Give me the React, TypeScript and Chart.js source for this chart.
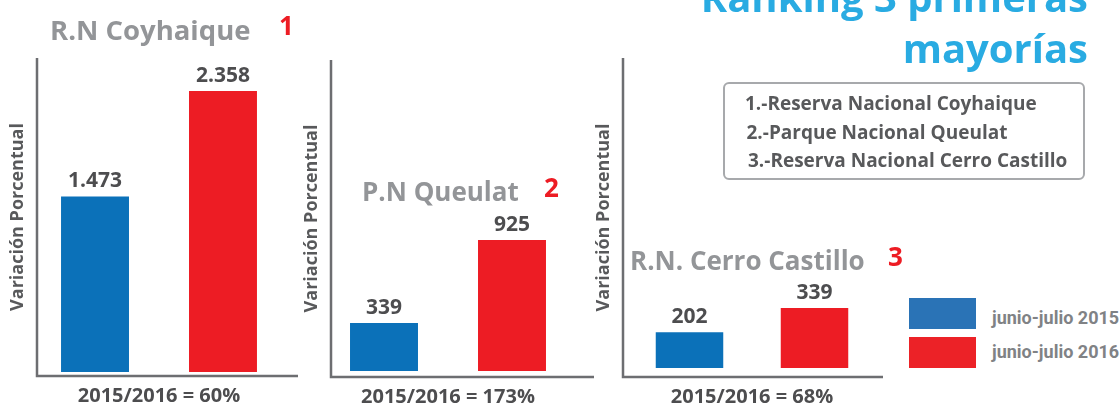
import React, { useEffect, useRef } from 'react';
import { Chart, registerables } from 'chart.js';

Chart.register(...registerables);

// ---- data ----
const parks = ['R.N Coyhaique', 'P.N Queulat', 'R.N. Cerro Castillo'];
const ranks = ['1', '2', '3'];
const seriesNames = ['junio-julio 2015', 'junio-julio 2016'];
const visitors2015 = [1473, 339, 202];
const visitors2016 = [2358, 925, 339];
const variationLabels = ['2015/2016 = 60%', '2015/2016 = 173%', '2015/2016 = 68%'];
const yAxisTitle = 'Variación Porcentual';
const axisMin = [-34, -42, -51];
const axisMax = [2635, 2196, 1751];
const rankingTitle = ['Ranking 3 primeras', 'mayorías'];
const rankingList = [
  '1.-Reserva Nacional Coyhaique',
  '2.-Parque Nacional Queulat',
  '3.-Reserva Nacional Cerro Castillo',
];

// ---- styles ----
const FONT = "'Open Sans', 'DejaVu Sans', sans-serif";
const BAR_COLORS = ['#0b71b9', '#ed1c24'];
const LEGEND_COLORS = ['#2a73b6', '#ec2227'];

const chartLayouts = [
  { left: 0, top: 40, w: 310, h: 368, pad: { left: 4.4, top: 18, right: 29, bottom: 0 }, ext: 17, cat: 1.049, bar: 0.531 },
  { left: 290, top: 40, w: 310, h: 369, pad: { left: 8.4, top: 20, right: 35, bottom: 0 }, ext: 29, cat: 1.094, bar: 0.531 },
  { left: 585, top: 40, w: 310, h: 369, pad: { left: 5.4, top: 18, right: 14, bottom: 0 }, ext: 2, cat: 0.969, bar: 0.54 },
];

const titlePositions = [
  { x: 50, y: 30, rx: 279, ry: 25 },
  { x: 362, y: 191, rx: 544, ry: 187 },
  { x: 630, y: 260, rx: 888, ry: 256 },
];

function fmt(v: number): string {
  return String(v).replace(/\B(?=(\d{3})+(?!\d))/g, '.');
}

const axisLinesPlugin = {
  id: 'axisLines',
  afterDatasetsDraw(chart: any, _args: any, opts: any) {
    const { ctx, chartArea: a } = chart;
    ctx.save();
    ctx.strokeStyle = '#6d6e71';
    ctx.lineWidth = 2.5;
    ctx.lineJoin = 'miter';
    ctx.beginPath();
    ctx.moveTo(a.left, a.top);
    ctx.lineTo(a.left, a.bottom);
    ctx.lineTo(a.right + (opts.extend || 0), a.bottom);
    ctx.stroke();
    ctx.restore();
  },
};

const valueLabelsPlugin = {
  id: 'valueLabels',
  afterDatasetsDraw(chart: any) {
    const ctx = chart.ctx;
    ctx.save();
    ctx.font = `bold 21px ${FONT}`;
    ctx.fillStyle = '#4d4d4f';
    ctx.textAlign = 'center';
    ctx.textBaseline = 'middle';
    chart.data.datasets.forEach((ds: any, di: number) => {
      chart.getDatasetMeta(di).data.forEach((el: any, i: number) => {
        ctx.fillText(fmt(ds.data[i]), el.x, el.y - 15);
      });
    });
    ctx.restore();
  },
};

function ParkChart({ idx }: { idx: number }) {
  const ref = useRef<HTMLCanvasElement>(null);
  const L = chartLayouts[idx];
  useEffect(() => {
    if (!ref.current) return;
    const chart = new Chart(ref.current, {
      type: 'bar',
      data: {
        labels: [parks[idx]],
        datasets: [
          { label: seriesNames[0], data: [visitors2015[idx]], backgroundColor: BAR_COLORS[0], categoryPercentage: L.cat, barPercentage: L.bar },
          { label: seriesNames[1], data: [visitors2016[idx]], backgroundColor: BAR_COLORS[1], categoryPercentage: L.cat, barPercentage: L.bar },
        ],
      },
      options: {
        responsive: false,
        animation: false,
        devicePixelRatio: 1,
        layout: { padding: L.pad },
        plugins: {
          legend: { display: false },
          tooltip: { enabled: false },
          title: { display: false },
          axisLines: { extend: L.ext },
        } as any,
        scales: {
          x: {
            display: true,
            grid: { display: false, drawTicks: false },
            border: { display: false },
            ticks: { display: false },
            title: {
              display: true,
              text: variationLabels[idx],
              color: '#4d4d4f',
              font: { family: FONT, size: 20, weight: 'bold' },
              padding: { top: 8, bottom: 0 },
            },
          },
          y: {
            display: true,
            min: axisMin[idx],
            max: axisMax[idx],
            grid: { display: false, drawTicks: false },
            border: { display: false },
            ticks: { display: false },
            title: {
              display: true,
              text: yAxisTitle,
              color: '#58595b',
              font: { family: FONT, size: 18, weight: 'bold' },
              padding: { top: 3, bottom: 8 },
            },
          },
        },
      },
      plugins: [axisLinesPlugin, valueLabelsPlugin],
    });
    return () => chart.destroy();
  }, [idx]);
  return (
    <canvas
      ref={ref}
      width={L.w}
      height={L.h}
      style={{ position: 'absolute', left: L.left, top: L.top, width: L.w, height: L.h }}
    />
  );
}

function Txt(props: { x: number; y: number; size: number; color: string; children: any; family?: string }) {
  return (
    <div
      style={{
        position: 'absolute',
        left: props.x,
        top: props.y,
        transform: 'translateY(-50%)',
        fontSize: props.size,
        lineHeight: 1,
        fontWeight: 700,
        color: props.color,
        fontFamily: props.family || FONT,
        whiteSpace: 'nowrap',
      }}
    >
      {props.children}
    </div>
  );
}

export default function App() {
  return (
    <div
      style={{
        position: 'absolute',
        left: 0,
        top: 0,
        width: 1120,
        height: 408,
        overflow: 'hidden',
        background: '#ffffff',
        fontFamily: FONT,
      }}
    >
      {parks.map((_, i) => (
        <ParkChart key={'c' + i} idx={i} />
      ))}
      {parks.map((p, i) => (
        <React.Fragment key={'t' + i}>
          <Txt x={titlePositions[i].x} y={titlePositions[i].y} size={i === 0 ? 27.5 : 26} color="#939598">{p}</Txt>
          <Txt x={titlePositions[i].rx} y={titlePositions[i].ry} size={26} color="#ed1c24">{ranks[i]}</Txt>
        </React.Fragment>
      ))}
      <div
        style={{
          position: 'absolute',
          right: 32,
          top: -29,
          textAlign: 'right',
          fontSize: 40,
          lineHeight: '51px',
          fontWeight: 700,
          color: '#29abe2',
          whiteSpace: 'nowrap',
        }}
      >
        {rankingTitle.map((t) => (
          <div key={t}>{t}</div>
        ))}
      </div>
      <div
        style={{
          position: 'absolute',
          left: 723,
          top: 82,
          width: 362,
          height: 98,
          boxSizing: 'border-box',
          border: '2px solid #a7a9ac',
          borderRadius: 6,
        }}
      />
      {rankingList.map((t, i) => (
        <Txt key={t} x={745 + i * 1.5} y={103 + i * 28.5} size={19} color="#58595b">{t}</Txt>
      ))}
      {seriesNames.map((s, i) => (
        <React.Fragment key={s}>
          <div
            style={{
              position: 'absolute',
              left: 909,
              top: 298 + i * 39,
              width: 67,
              height: 31,
              background: LEGEND_COLORS[i],
            }}
          />
          <Txt x={992} y={318 + i * 34} size={18} color="#808285" family="Roboto, 'Open Sans', sans-serif">{s}</Txt>
        </React.Fragment>
      ))}
    </div>
  );
}
